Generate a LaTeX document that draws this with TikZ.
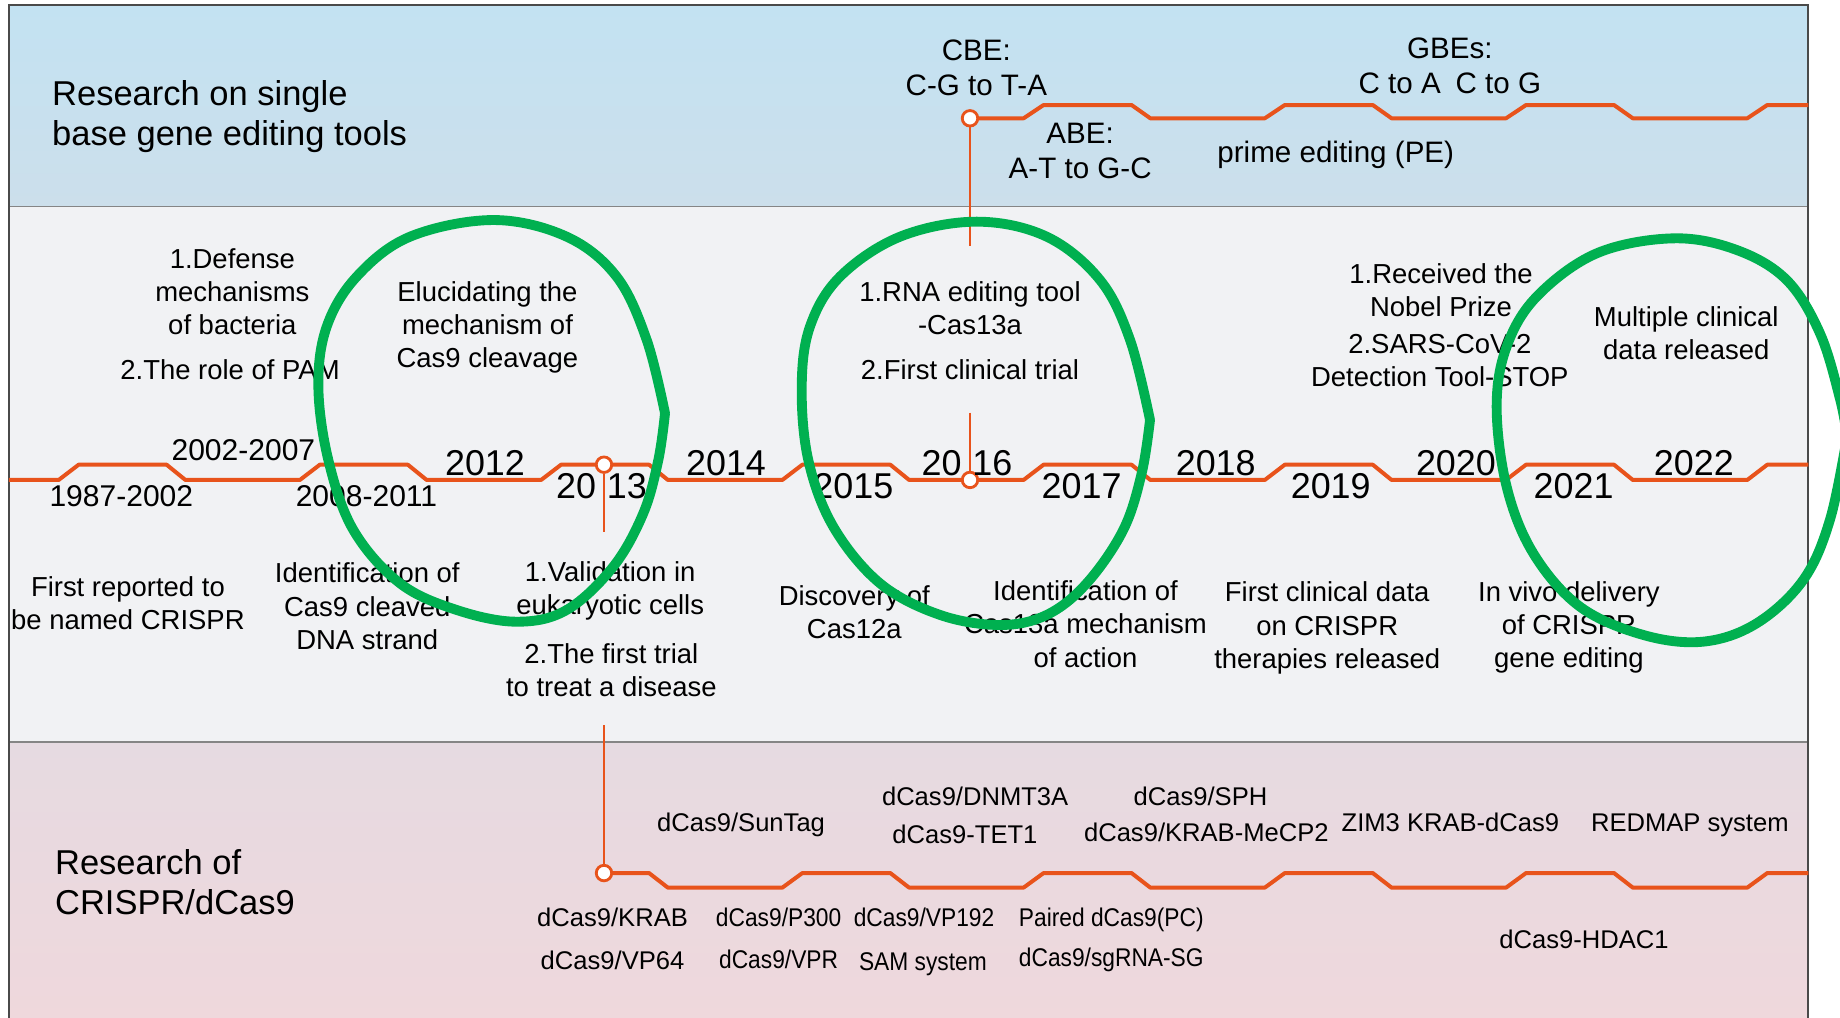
\documentclass[tikz,border=0pt]{standalone}
\usepackage{fontspec}
\setmainfont{Liberation Sans}
\newfontfamily\narrowfont[FakeStretch=0.89]{Liberation Sans}
\definecolor{tlor}{HTML}{E8531B}
\definecolor{grn}{HTML}{00B050}
\definecolor{bandblueA}{HTML}{C3E2F2}
\definecolor{bandblueB}{HTML}{CCDFEB}
\definecolor{bandgray}{HTML}{F1F2F4}
\definecolor{bandpinkA}{HTML}{E6DAE1}
\definecolor{bandpinkB}{HTML}{EFD8DC}
\definecolor{framec}{HTML}{4A4A4A}
\definecolor{sepc}{HTML}{858585}
\begin{document}
\begin{tikzpicture}[x=0.5pt,y=-0.5pt,
  txt/.style={inner sep=0pt, outer sep=0pt, anchor=base, align=center, text=black},
  head/.style={txt, align=left, anchor=base west, font=\fontsize{14.7}{17.25}\selectfont},
  mid/.style={txt, font=\fontsize{11.7}{14.1}\selectfont},
  yr/.style={txt, font=\fontsize{15.3}{18}\selectfont},
  rng/.style={txt, font=\fontsize{12.8}{15}\selectfont},
  dlab/.style={txt, font=\fontsize{10.9}{13}\selectfont},
  dlabn/.style={txt, font=\narrowfont\fontsize{10.9}{13}\selectfont},
  blab/.style={txt, font=\fontsize{12.6}{15}\selectfont},
  wave/.style={draw=tlor, line width=1.7pt, line join=round},
  drop/.style={draw=tlor, line width=1.1pt},
  dot/.style={circle, draw=tlor, fill=white, line width=1.2pt, minimum size=6.6pt, inner sep=0pt},
  ring/.style={draw=grn, line width=4.2pt, line cap=round, line join=round},
]
\def\per{205.57}
\useasboundingbox (0,0) rectangle (1568,867);
% backgrounds
\fill[white] (0,0) rectangle (1568,867);
\shade[top color=bandblueA, bottom color=bandblueB] (7.5,4.3) rectangle (1541,176);
\fill[bandgray] (7.5,176) rectangle (1541,632);
\shade[top color=bandpinkA, bottom color=bandpinkB] (7.5,632) rectangle (1541,872);
\draw[sepc, line width=0.8pt] (7.5,176) -- (1541,176) (7.5,632) -- (1541,632);
\draw[framec, line width=0.9pt] (7.5,872) -- (7.5,4.3) -- (1541,4.3) -- (1541,872);

% anchor points
\coordinate (ptop) at (826.6,100.8);
\coordinate (ptope) at (826.6,210);
\coordinate (p16) at (826.6,409);
\coordinate (p16s) at (826.6,351.7);
\coordinate (p13) at (514.7,396);
\coordinate (p13e) at (514.7,453);
\coordinate (pbot) at (514.7,744);
\coordinate (pbs) at (514.7,618);

% main timeline
\draw[wave] (7.5,409)
  \foreach \k in {0,...,6}{ -- ({50+\per*\k},409) -- ({67+\per*\k},396) -- ({142+\per*\k},396) -- ({158+\per*\k},409) }
  -- (1489,409) -- (1506,396) -- (1541,396);
% top timeline
\draw[wave] (ptop)
  \foreach \k in {4,5,6}{ -- ({50+\per*\k},100.8) -- ({67+\per*\k},89.5) -- ({142+\per*\k},89.5) -- ({158+\per*\k},100.8) }
  -- (1489,100.8) -- (1506,89.5) -- (1541,89.5);
% bottom timeline
\draw[wave] (pbot) -- (553.1,744) -- (569.1,756.4)
  \foreach \k in {3,...,6}{ -- ({50+\per*\k},756.4) -- ({67+\per*\k},744) -- ({142+\per*\k},744) -- ({158+\per*\k},756.4) }
  -- (1489,756.4) -- (1506,744) -- (1541,744);

% markers
\node[dot] (dtop) at (ptop) {};
\node[dot] (d16) at (p16) {};
\node[dot] (d13) at (p13) {};
\node[dot] (dbot) at (pbot) {};
\draw[drop] (dtop) -- (ptope);
\draw[drop] (p16s) -- (d16);
\draw[drop] (d13) -- (p13e);
\draw[drop] (pbs) -- (dbot);

% headings (anchor = baseline of last line)
\node[head] (h1) at (44.5,124) {Research on single\\base gene editing tools};
\node[head] (h2) at (47,779.5) {Research of\\CRISPR/dCas9};

% top band labels
\node[blab] (cbe) at (832,81.5) {CBE:\\C-G to T-A};
\node[blab] (abe) at (920.5,152.5) {ABE:\\A-T to G-C};
\node[blab] (pe) at (1138.3,138.5) {prime editing (PE)};
\node[blab] (gbe) at (1235.5,79.7) {GBEs:\\C to A\hspace{0.5em}C to G};

% middle band, above
\node[mid] (t1a) at (198,285.1) {1.Defense\\mechanisms\\of bacteria};
\node[mid] (t1b) at (196,323) {2.The role of PAM};
\node[mid] (t2) at (415.4,313.4) {Elucidating the\\mechanism of\\Cas9 cleavage};
\node[mid] (t3a) at (826.6,285.2) {1.RNA editing tool\\-Cas13a};
\node[mid] (t3b) at (826.6,323.8) {2.First clinical trial};
\node[mid] (t4a) at (1228,269.7) {1.Received the\\Nobel Prize};
\node[mid] (t4b) at (1227,329.2) {2.SARS-CoV-2\\Detection Tool-STOP};
\node[mid] (t5) at (1437,306.6) {Multiple clinical\\data released};

% middle band, below
\node[mid] (b1) at (109,536.7) {First reported to\\be named CRISPR};
\node[mid] (b2) at (313,553.2) {Identification of\\Cas9 cleaved\\DNA strand};
\node[mid] (b3a) at (520,523.9) {1.Validation in\\eukaryotic cells};
\node[mid] (b3b) at (521,593.2) {2.The first trial\\to treat a disease};
\node[mid] (b4) at (728,544.2) {Discovery of\\Cas12a};
\node[mid] (b5) at (925,568.4) {Identification of\\Cas13a mechanism\\of action};
\node[mid] (b6) at (1131,569.4) {First clinical data\\on CRISPR\\therapies released};
\node[mid] (b7) at (1337,569.1) {In vivo delivery\\of CRISPR\\gene editing};

% years
\node[rng] (r1) at (103.4,431.8) {1987-2002};
\node[rng] (r2) at (207.4,392.6) {2002-2007};
\node[rng] (r3) at (312.3,431.8) {2008-2011};
\node[yr] (y12) at (413.3,405.5) {2012};
\node[yr] (y13) at (512.5,425) {20\hspace{0.3em}13};
\node[yr] (y14) at (618.7,405.5) {2014};
\node[yr] (y15) at (727.2,425) {2015};
\node[yr] (y16) at (824,405.5) {20\hspace{0.3em}16};
\node[yr] (y17) at (921.7,425) {2017};
\node[yr] (y18) at (1036,405.5) {2018};
\node[yr] (y19) at (1134,425) {2019};
\node[yr] (y20) at (1240.7,405.5) {2020};
\node[yr] (y21) at (1341,425) {2021};
\node[yr] (y22) at (1443.5,405.5) {2022};

% bottom band labels
\node[dlab] (k1) at (631.5,708.7) {dCas9/SunTag};
\node[dlab] (k2) at (831,686) {dCas9/DNMT3A};
\node[dlab] (k3) at (822.3,718.6) {dCas9-TET1};
\node[dlab] (k4) at (1023,686) {dCas9/SPH};
\node[dlab] (k5) at (1028,717.2) {dCas9/KRAB-MeCP2};
\node[dlab] (k6) at (1236,708.7) {ZIM3 KRAB-dCas9};
\node[dlab] (k7) at (1440,708.7) {REDMAP system};
\node[dlab] (k8) at (522,789.7) {dCas9/KRAB};
\node[dlab] (k9) at (522,826) {dCas9/VP64};
\node[dlabn] (k10) at (663.5,789.7) {dCas9/P300};
\node[dlabn] (k11) at (663.5,825.2) {dCas9/VPR};
\node[dlabn] (k12) at (787.4,789.7) {dCas9/VP192};
\node[dlabn] (k13) at (786.5,826.6) {SAM system};
\node[dlabn] (k14) at (947,789.7) {Paired dCas9(PC)};
\node[dlabn] (k15) at (947,823.8) {dCas9/sgRNA-SG};
\node[dlab] (k16) at (1349.8,808) {dCas9-HDAC1};

% green hand-drawn rings
\draw[ring] plot[smooth, tension=0.6] coordinates {(566.7,352.2) (561,392) (548.2,437.4) (522.6,482.9) (482.9,519.8) (440.3,529.8) (389.2,519.8) (340.9,497.1) (301.1,451.6) (279.8,392) (271.3,329.5) (278.4,278.4) (303.9,235.8) (349.4,201.7) (420.4,187.5) (482.9,201.7) (525.5,235.8) (551.1,289.7) (566.7,352.2)};
\draw[ring] plot[smooth, tension=0.6] coordinates {(980,357.9) (972.9,403.3) (957.2,451.6) (926,497.1) (892,524) (852.2,532.6) (801,524) (749.9,497.1) (710.1,448.8) (688.8,392) (683.2,329.5) (690.2,278.4) (715.8,235.8) (767,201.7) (832.3,188.9) (892,201.7) (937.4,238.6) (963,289.7) (980,357.9)};
\draw[ring] plot[smooth, tension=0.6] coordinates {(1574,372) (1559.4,443) (1536.7,494.2) (1496.9,531.2) (1451.5,546.8) (1400.4,541.1) (1346.4,517) (1306.6,471.5) (1283.9,414.7) (1275.4,346.6) (1283.9,295.4) (1309.5,252.8) (1360.6,215.9) (1425.9,203.1) (1479.9,213) (1522.5,238.6) (1550.9,284) (1568,340) (1574,372)};
\end{tikzpicture}
\end{document}
